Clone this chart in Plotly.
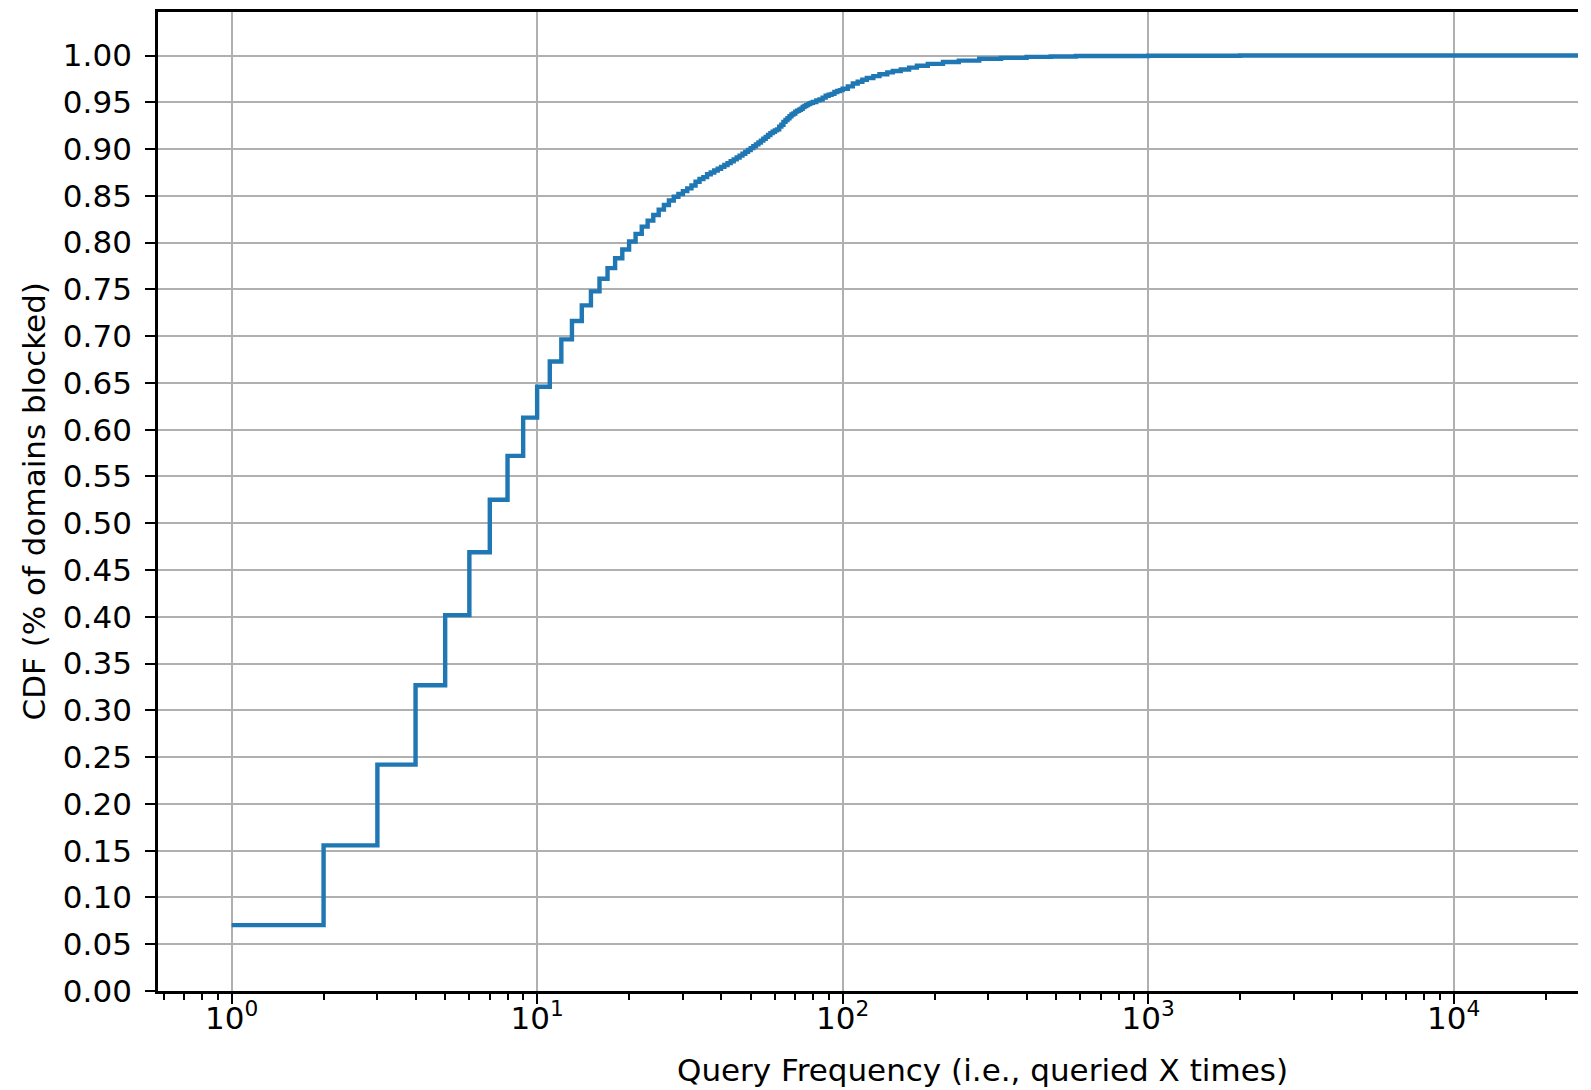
import plotly.graph_objects as go

query_counts = [1, 2, 3, 4, 5, 6, 7, 8, 9, 10, 11, 12, 13, 14, 15, 16, 17, 18, 19, 20,
                21, 22, 23, 24, 25, 26, 27, 28, 29, 30, 31, 32, 33, 34, 35, 36, 37, 38, 39, 40,
                41, 42, 43, 44, 45, 46, 47, 48, 49, 50, 51, 52, 53, 54, 55, 56, 57, 58, 59, 60,
                61, 62, 63, 64, 65, 66, 67, 68, 69, 70, 71, 72, 73, 74, 75, 76, 77, 78, 79, 80,
                82, 84, 86, 88, 90, 92, 94, 96, 98, 100, 104, 108, 112, 116, 120, 126, 132, 140,
                146, 155, 165, 175, 190, 213, 240, 280, 330, 400, 480, 580, 1000, 2000, 30000]
cdf_values = [0.0704, 0.1557, 0.2420, 0.3269, 0.4018, 0.4690, 0.5251, 0.5720, 0.6129, 0.6459,
              0.6729, 0.6965, 0.7162, 0.7329, 0.7479, 0.7613, 0.7727, 0.7833, 0.7926, 0.8011,
              0.8093, 0.8171, 0.8235, 0.8295, 0.8352, 0.8402, 0.8450, 0.8490, 0.8520, 0.8550,
              0.8580, 0.8610, 0.8650, 0.8680, 0.8700, 0.8730, 0.8750, 0.8770, 0.8790, 0.8810,
              0.8830, 0.8850, 0.8870, 0.8890, 0.8910, 0.8930, 0.8950, 0.8970, 0.8990, 0.9010,
              0.9030, 0.9050, 0.9070, 0.9090, 0.9110, 0.9130, 0.9150, 0.9170, 0.9185, 0.9200,
              0.9210, 0.9240, 0.9260, 0.9290, 0.9310, 0.9330, 0.9350, 0.9370, 0.9380, 0.9400,
              0.9410, 0.9420, 0.9430, 0.9450, 0.9460, 0.9470, 0.9480, 0.9490, 0.9495, 0.9503,
              0.9520, 0.9530, 0.9550, 0.9570, 0.9580, 0.9590, 0.9610, 0.9620, 0.9630, 0.9645,
              0.9670, 0.9700, 0.9720, 0.9740, 0.9760, 0.9780, 0.9800, 0.9820, 0.9834, 0.9850,
              0.9870, 0.9890, 0.9910, 0.9930, 0.9945, 0.9965, 0.9975, 0.9985, 0.9990, 0.9995,
              0.9997, 1.0000, 1.0000]

x_tick_vals = [1, 10, 100, 1000, 10000]
x_tick_text = ["10<sup>0</sup>", "10<sup>1</sup>", "10<sup>2</sup>", "10<sup>3</sup>", "10<sup>4</sup>"]
x_minor_vals = [m * 10 ** k for k in range(-1, 5) for m in range(2, 10)]
y_tick_vals = [i * 0.05 for i in range(21)]
y_tick_text = [f"{v:.2f}" for v in y_tick_vals]

x_title = "Query Frequency (i.e., queried X times)"
y_title = "CDF (% of domains blocked)"

FONT = "DejaVu Sans"
# the page body adds an 8px offset, so the figure is 8px smaller than the window
W, H = 1583, 1082
L, R, T, B = 150, 13, 1, 99
PW, PH = W - L - R, H - T - B

fig = go.Figure()
fig.add_trace(go.Scatter(
    x=query_counts, y=cdf_values, mode="lines",
    line=dict(color="#1f77b4", width=4.4, shape="hv"),
    showlegend=False, hoverinfo="skip",
))

axis_common = dict(
    showline=True, linecolor="black", linewidth=2.8,
    ticks="outside", ticklen=10, tickwidth=2.4, tickcolor="black",
    showgrid=True, gridcolor="#b0b0b0", gridwidth=2.4,
    zeroline=False,
    tickfont=dict(family=FONT, size=31, color="black"),
)

fig.update_layout(
    width=W, height=H,
    margin=dict(l=L, r=R, t=T, b=B, pad=0),
    paper_bgcolor="white", plot_bgcolor="white",
    font=dict(family=FONT, size=31, color="black"),
    xaxis=dict(
        type="log", range=[-0.241, 4.407],
        tickmode="array", tickvals=x_tick_vals, ticktext=x_tick_text,
        mirror=True, ticklabelstandoff=-12,
        minor=dict(tickmode="array", tickvals=x_minor_vals, ticks="outside",
                   ticklen=6, tickwidth=2.0, tickcolor="black", showgrid=False),
        **axis_common,
    ),
    yaxis=dict(
        range=[0, 1.0465],
        tickmode="array", tickvals=y_tick_vals, ticktext=y_tick_text,
        ticklabelstandoff=7,
        **axis_common,
    ),
    annotations=[
        dict(text=x_title, xref="paper", yref="paper",
             x=(974 - L) / PW, y=-(1062 - 983) / PH,
             xanchor="center", yanchor="middle", showarrow=False,
             font=dict(family=FONT, size=31, color="black")),
        dict(text=y_title, xref="paper", yref="paper", textangle=-90,
             x=(25 - L) / PW, y=0.5,
             xanchor="center", yanchor="middle", showarrow=False,
             font=dict(family=FONT, size=31, color="black")),
    ],
)

fig.write_html("out.html")
